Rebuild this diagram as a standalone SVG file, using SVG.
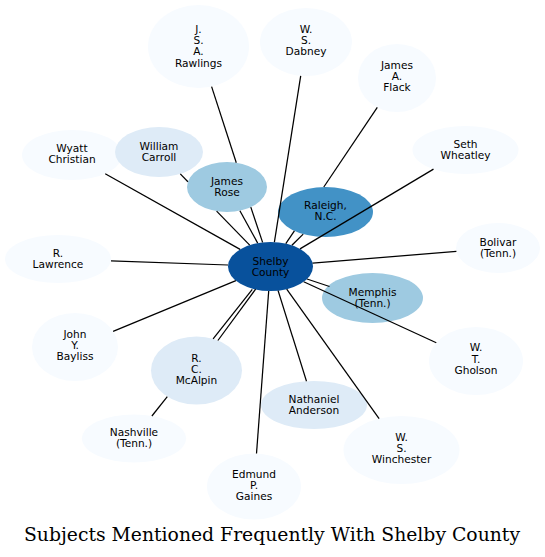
<svg xmlns="http://www.w3.org/2000/svg" width="545" height="557" viewBox="0 0 545 557">
<style>
.n text{font-family:"DejaVu Sans",Verdana,sans-serif;font-size:10.6px;fill:#000;text-anchor:middle}
.c0{fill:#08519c}.c1{fill:#4292c6}.c2{fill:#9ecae1}.c3{fill:#deebf7}.c4{fill:#f7fbff}
#edges line{stroke:#000;stroke-width:1.25}
.title{font-family:"DejaVu Serif",serif;font-size:18.8px;fill:#000;text-anchor:middle}
</style>
<rect width="545" height="557" fill="#fff"/>
<g id="node-shelby" class="n"><ellipse class="c0" cx="270.5" cy="266.5" rx="42.5" ry="24.5"/><text x="270.5" y="264.5">Shelby<tspan x="270.5" dy="11.3">County</tspan></text></g>
<g id="node-rawlings" class="n"><ellipse class="c4" cx="198.5" cy="46.5" rx="50.5" ry="41.5"/><text x="198.5" y="33.2">J.<tspan x="198.5" dy="11.1">S.</tspan><tspan x="198.5" dy="11.1">A.</tspan><tspan x="198.5" dy="11.1">Rawlings</tspan></text></g>
<g id="node-dabney" class="n"><ellipse class="c4" cx="306" cy="42" rx="46" ry="34"/><text x="306" y="33">W.<tspan x="306" dy="11.2">S.</tspan><tspan x="306" dy="11.2">Dabney</tspan></text></g>
<g id="node-flack" class="n"><ellipse class="c4" cx="397" cy="78" rx="39" ry="34"/><text x="397" y="68.6">James<tspan x="397" dy="11.2">A.</tspan><tspan x="397" dy="11.2">Flack</tspan></text></g>
<g id="node-wheatley" class="n"><ellipse class="c4" cx="465.5" cy="150" rx="53" ry="24"/><text x="465.5" y="148">Seth<tspan x="465.5" dy="11.3">Wheatley</tspan></text></g>
<g id="node-wyatt" class="n"><ellipse class="c4" cx="72" cy="155" rx="50" ry="25"/><text x="72" y="152">Wyatt<tspan x="72" dy="11.3">Christian</tspan></text></g>
<g id="node-carroll" class="n"><ellipse class="c3" cx="159" cy="152" rx="44" ry="25"/><text x="159" y="149.6">William<tspan x="159" dy="11.3">Carroll</tspan></text></g>
<g id="node-rose" class="n"><ellipse class="c2" cx="227" cy="187" rx="40" ry="25"/><text x="227" y="185">James<tspan x="227" dy="11.3">Rose</tspan></text></g>
<g id="node-raleigh" class="n"><ellipse class="c1" cx="325.5" cy="212" rx="47.5" ry="25"/><text x="325.5" y="209">Raleigh,<tspan x="325.5" dy="11.3">N.C.</tspan></text></g>
<g id="node-bolivar" class="n"><ellipse class="c4" cx="498" cy="248" rx="42" ry="25"/><text x="498" y="245.5">Bolivar<tspan x="498" dy="11.3">(Tenn.)</tspan></text></g>
<g id="node-lawrence" class="n"><ellipse class="c4" cx="58" cy="259" rx="53" ry="24"/><text x="58" y="256.5">R.<tspan x="58" dy="11.3">Lawrence</tspan></text></g>
<g id="node-memphis" class="n"><ellipse class="c2" cx="372.5" cy="298" rx="50.5" ry="25"/><text x="372.5" y="295.5">Memphis<tspan x="372.5" dy="11.3">(Tenn.)</tspan></text></g>
<g id="node-bayliss" class="n"><ellipse class="c4" cx="75" cy="347" rx="43" ry="34"/><text x="75" y="338">John<tspan x="75" dy="11.2">Y.</tspan><tspan x="75" dy="11.2">Bayliss</tspan></text></g>
<g id="node-gholson" class="n"><ellipse class="c4" cx="476" cy="361" rx="47" ry="34"/><text x="476" y="351.4">W.<tspan x="476" dy="11.3">T.</tspan><tspan x="476" dy="11.3">Gholson</tspan></text></g>
<g id="node-mcalpin" class="n"><ellipse class="c3" cx="196.5" cy="370.5" rx="45.5" ry="34"/><text x="196.5" y="361.8">R.<tspan x="196.5" dy="11.3">C.</tspan><tspan x="196.5" dy="11.3">McAlpin</tspan></text></g>
<g id="node-anderson" class="n"><ellipse class="c3" cx="314" cy="405" rx="53" ry="24"/><text x="314" y="402.5">Nathaniel<tspan x="314" dy="11.3">Anderson</tspan></text></g>
<g id="node-nashville" class="n"><ellipse class="c4" cx="134" cy="438.5" rx="52" ry="24"/><text x="134" y="436">Nashville<tspan x="134" dy="11.3">(Tenn.)</tspan></text></g>
<g id="node-gaines" class="n"><ellipse class="c4" cx="254" cy="486.5" rx="47" ry="33"/><text x="254" y="477.8">Edmund<tspan x="254" dy="11.2">P.</tspan><tspan x="254" dy="11.2">Gaines</tspan></text></g>
<g id="node-winchester" class="n"><ellipse class="c4" cx="401.5" cy="450" rx="58" ry="34"/><text x="401.5" y="441">W.<tspan x="401.5" dy="11.2">S.</tspan><tspan x="401.5" dy="11.2">Winchester</tspan></text></g>
<g id="edges">
<line x1="211.6" y1="86.6" x2="236.3" y2="162.7"/><line x1="250.8" y1="207.1" x2="262.6" y2="242.4"/>
<line x1="300.7" y1="75.8" x2="274.4" y2="242.1"/>
<line x1="377.3" y1="107.3" x2="323.8" y2="187"/><line x1="294.4" y1="230.9" x2="285.8" y2="243.6"/>
<line x1="433.5" y1="169.1" x2="300" y2="248.9"/>
<line x1="105.2" y1="173.7" x2="240.1" y2="249.4"/>
<line x1="180.3" y1="173.9" x2="187.9" y2="181.7"/><line x1="216.6" y1="211.1" x2="249.7" y2="245.1"/>
<line x1="239.9" y1="210.7" x2="257.7" y2="243.1"/>
<line x1="303.2" y1="234.1" x2="291.9" y2="245.3"/>
<line x1="456.4" y1="251.4" x2="312.6" y2="263.1"/>
<line x1="111" y1="260.9" x2="228" y2="265"/>
<line x1="329.5" y1="286.5" x2="307" y2="279"/>
<line x1="436.3" y1="342.8" x2="303.7" y2="281.8"/>
<line x1="113.1" y1="331.3" x2="235.9" y2="280.7"/>
<line x1="217.9" y1="340.5" x2="255.6" y2="289.2"/>
<line x1="151.9" y1="416" x2="167.3" y2="396.6"/><line x1="213.1" y1="338.8" x2="252.3" y2="289.3"/>
<line x1="306.5" y1="381.2" x2="278.1" y2="290.6"/>
<line x1="256.5" y1="453.5" x2="268.7" y2="291"/>
<line x1="379.1" y1="418.6" x2="286.7" y2="289.2"/>
</g>
<text class="title" x="272" y="541">Subjects Mentioned Frequently With Shelby County</text>
</svg>
